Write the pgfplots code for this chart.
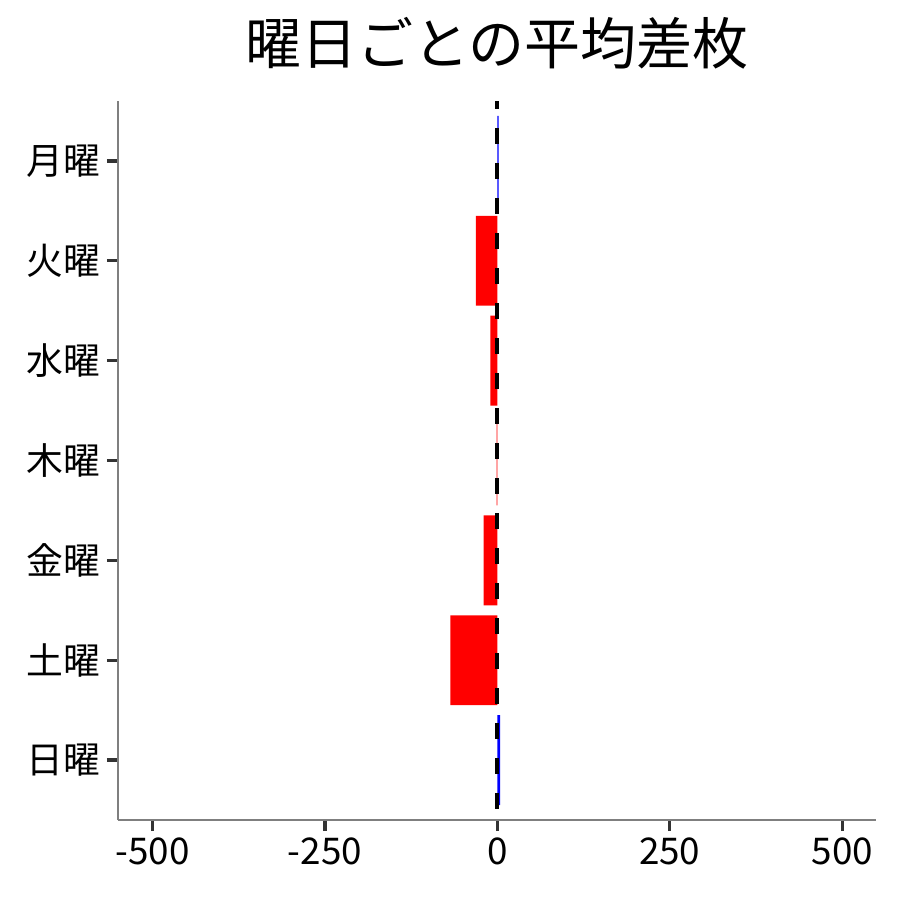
\documentclass[border=0pt]{standalone}
\usepackage{pgfplots}
\pgfplotsset{compat=1.18}
\usepackage{fontspec}
\setmainfont{Noto Sans CJK JP}
\definecolor{spinegray}{HTML}{7F7F7F}
\definecolor{tickgray}{HTML}{333333}
\begin{document}
\begin{tikzpicture}
\useasboundingbox (-59pt,-40pt) rectangle (391pt,410pt);
\begin{axis}[
    at={(0,0)}, anchor=south west,
    scale only axis,
    width=379pt, height=359.5pt,
    xmin=-550, xmax=549,
    ymin=-0.6, ymax=6.6,
    enlargelimits=false,
    axis x line*=bottom,
    axis y line*=left,
    axis line style={spinegray, line width=0.75pt, -},
    tick align=outside,
    major tick length=5.5pt,
    tick style={tickgray, line width=1.6pt},
    xtick={-500,-250,0,250,500},
    xticklabels={-500,-250,0,250,500},
    ytick={0,1,2,3,4,5,6},
    yticklabels={日曜,土曜,金曜,木曜,水曜,火曜,月曜},
    ticklabel style={font=\fontsize{18.4}{18.4}\selectfont, black},
    minor tick num=0,
    title={曜日ごとの平均差枚},
    title style={at={(0.5,1)}, anchor=center, yshift=23pt,
                 font=\fontsize{28}{28}\selectfont},
    clip=true,
]
% negative days (red)
\addplot[xbar, bar shift=0pt, bar width=0.9, fill=red, draw=none] coordinates {
    (-31,5)
    (-10,4)
    (-1,3)
    (-20,2)
    (-68,1)
};
% positive days (blue)
\addplot[xbar, bar shift=0pt, bar width=0.9, fill=blue, draw=none] coordinates {
    (2,6)
    (4,0)
};
% zero line
\addplot[black, line width=2pt, dash pattern=on 8pt off 9.5pt, dash phase=4pt]
    coordinates {(0,6.6) (0,-0.6)};
\end{axis}
\end{tikzpicture}
\end{document}
